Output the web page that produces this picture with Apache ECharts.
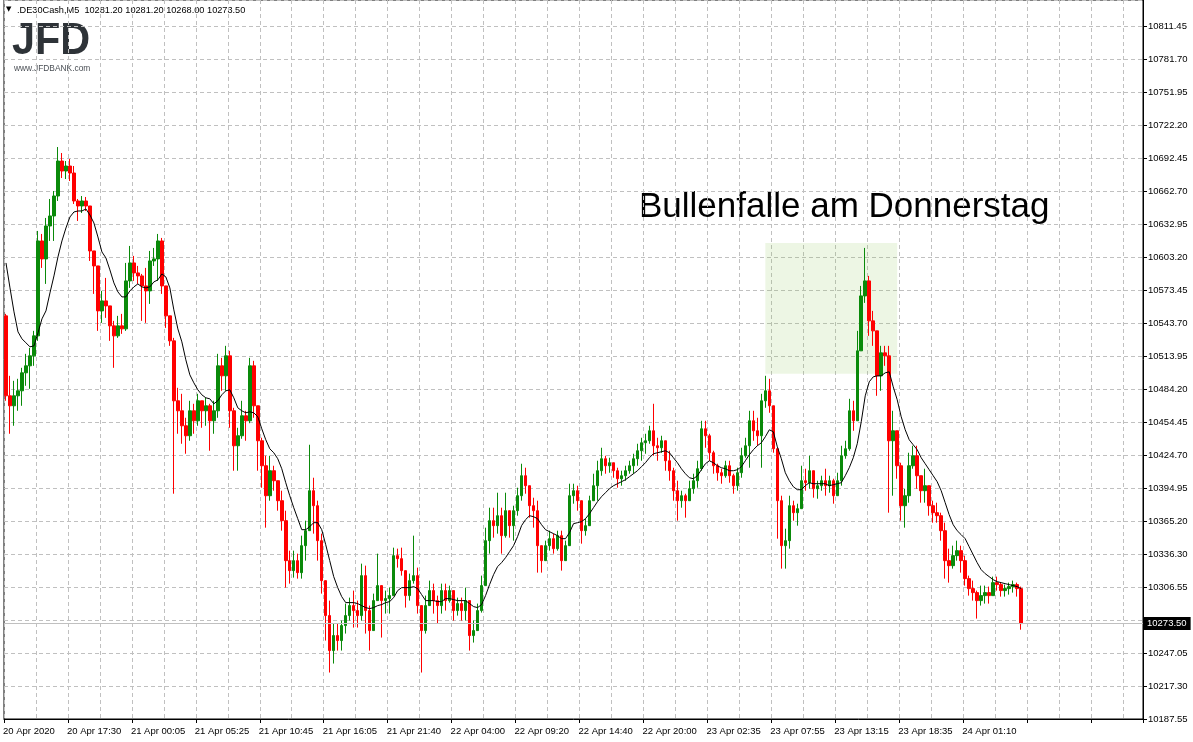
<!DOCTYPE html>
<html><head><meta charset="utf-8">
<script src="https://cdn.jsdelivr.net/npm/echarts@6/dist/echarts.min.js"></script>
<style>html,body{margin:0;padding:0;background:#fff}#c{width:1193px;height:742px}</style>
</head><body><div id="c"></div>
<script>
// ---------- data ----------
const X_LABELS = ["20 Apr 2020","20 Apr 17:30","21 Apr 00:05","21 Apr 05:25","21 Apr 10:45","21 Apr 16:05","21 Apr 21:40","22 Apr 04:00","22 Apr 09:20","22 Apr 14:40","22 Apr 20:00","23 Apr 02:35","23 Apr 07:55","23 Apr 13:15","23 Apr 18:35","24 Apr 01:10"];
// price-axis tick labels, bottom to top
const Y_LABELS = ["10187.55","10217.30","10247.05","10276.80","10306.55","10336.30","10365.20","10394.95","10424.70","10454.45","10484.20","10513.95","10543.70","10573.45","10603.20","10632.95","10662.70","10692.45","10722.20","10751.95","10781.70","10811.45"];
// candles: [open, close, low, high]
const OHLC = [
[10550.7,10478.7,10474.2,10552.5],[10478.7,10469.7,10444.5,10496.7],[10469.7,10478.7,10451.7,10492.2],[10478.7,10483.2,10465.2,10494.0],
[10483.2,10499.4,10469.7,10503.9],[10499.4,10505.7,10487.7,10516.5],[10505.7,10514.7,10485.0,10521.9],[10514.7,10532.7,10505.7,10537.2],
[10532.7,10618.2,10528.2,10627.2],[10618.2,10602.0,10593.9,10624.5],[10602.0,10631.7,10579.5,10638.9],[10631.7,10640.7,10618.2,10656.0],
[10640.7,10658.7,10618.2,10663.2],[10658.7,10690.2,10654.2,10702.8],[10690.2,10681.2,10674.9,10697.4],[10681.2,10685.7,10674.0,10690.2],
[10685.7,10679.4,10672.2,10692.0],[10679.4,10654.2,10651.5,10685.7],[10654.2,10649.7,10636.2,10656.0],[10649.7,10654.2,10643.4,10658.7],
[10654.2,10649.7,10645.2,10657.8],[10649.7,10609.2,10600.2,10649.7],[10609.2,10595.7,10570.5,10609.2],[10595.7,10555.2,10537.2,10595.7],
[10555.2,10564.2,10544.4,10573.2],[10564.2,10559.7,10548.9,10584.9],[10559.7,10541.7,10528.2,10559.7],[10541.7,10532.7,10503.9,10546.2],
[10532.7,10541.7,10530.9,10550.7],[10541.7,10539.0,10534.5,10552.5],[10539.0,10582.2,10537.2,10598.4],[10582.2,10598.4,10575.9,10613.7],
[10598.4,10589.4,10582.2,10604.7],[10589.4,10586.7,10579.5,10595.7],[10586.7,10577.7,10546.2,10588.5],[10577.7,10573.2,10544.4,10593.9],
[10573.2,10600.2,10561.5,10609.2],[10600.2,10602.0,10595.7,10611.9],[10602.0,10618.2,10582.2,10624.5],[10618.2,10577.7,10570.5,10620.9],
[10577.7,10550.7,10539.9,10577.7],[10550.7,10528.2,10523.7,10550.7],[10528.2,10474.2,10390.5,10530.9],[10474.2,10465.2,10444.5,10485.9],
[10465.2,10451.7,10435.5,10480.5],[10451.7,10442.7,10426.5,10458.9],[10442.7,10465.2,10438.2,10474.2],[10465.2,10456.2,10444.5,10471.5],
[10456.2,10474.2,10451.7,10480.5],[10474.2,10465.2,10449.9,10474.2],[10465.2,10469.7,10451.7,10476.9],[10469.7,10456.2,10429.2,10471.5],
[10456.2,10465.2,10444.5,10474.2],[10465.2,10505.7,10458.9,10516.5],[10505.7,10496.7,10483.2,10512.9],[10496.7,10514.7,10483.2,10523.7],
[10514.7,10465.2,10449.9,10519.2],[10465.2,10433.7,10411.2,10467.9],[10433.7,10442.7,10411.2,10449.9],[10442.7,10460.7,10440.0,10474.2],
[10460.7,10456.2,10438.2,10465.2],[10456.2,10505.7,10454.0,10512.9],[10505.7,10469.7,10458.9,10510.2],[10469.7,10438.2,10411.2,10469.7],
[10438.2,10415.7,10395.9,10440.9],[10415.7,10388.7,10359.9,10424.7],[10388.7,10411.2,10384.2,10424.7],[10411.2,10402.2,10393.2,10415.7],
[10402.2,10384.2,10375.2,10402.2],[10384.2,10366.2,10357.2,10393.2],[10366.2,10330.2,10305.9,10375.2],[10330.2,10321.2,10309.5,10339.2],
[10321.2,10330.2,10314.9,10339.2],[10330.2,10319.4,10314.0,10336.5],[10319.4,10343.7,10314.0,10352.7],[10343.7,10357.2,10330.2,10366.2],
[10357.2,10393.2,10357.2,10434.6],[10393.2,10379.7,10354.5,10404.9],[10379.7,10348.2,10330.2,10384.2],[10348.2,10312.2,10300.5,10354.5],
[10312.2,10280.7,10258.2,10312.2],[10280.7,10249.2,10229.4,10294.2],[10249.2,10262.7,10237.5,10273.5],[10262.7,10258.2,10249.2,10273.5],
[10258.2,10271.7,10249.2,10276.2],[10271.7,10280.7,10264.5,10291.5],[10280.7,10289.7,10276.2,10296.9],[10289.7,10285.2,10269.9,10303.2],
[10285.2,10280.7,10269.9,10294.2],[10280.7,10316.7,10276.2,10327.5],[10316.7,10285.2,10264.5,10325.7],[10285.2,10267.2,10249.2,10289.7],
[10267.2,10294.2,10267.2,10300.5],[10294.2,10307.7,10294.2,10336.5],[10307.7,10294.2,10260.9,10307.7],[10294.2,10296.0,10282.5,10303.2],
[10296.0,10298.7,10282.5,10305.9],[10298.7,10334.7,10298.7,10341.9],[10334.7,10332.0,10323.9,10341.0],[10332.0,10321.2,10316.7,10341.9],
[10321.2,10298.7,10287.9,10321.2],[10298.7,10312.2,10294.2,10318.5],[10312.2,10316.7,10309.5,10352.7],[10316.7,10289.7,10282.5,10323.9],
[10289.7,10267.2,10229.4,10289.7],[10267.2,10289.7,10264.5,10298.7],[10289.7,10303.2,10289.7,10312.2],[10303.2,10294.2,10282.5,10309.5],
[10294.2,10289.7,10273.5,10298.7],[10289.7,10303.2,10282.5,10309.5],[10303.2,10294.2,10285.2,10309.5],[10294.2,10303.2,10292.4,10307.7],
[10303.2,10285.2,10276.2,10303.2],[10285.2,10291.5,10280.7,10296.9],[10291.5,10285.2,10276.2,10296.9],[10285.2,10294.2,10276.2,10305.9],
[10294.2,10262.7,10249.2,10294.2],[10262.7,10267.2,10256.4,10276.2],[10267.2,10285.2,10267.2,10291.5],[10285.2,10307.7,10283.4,10316.7],
[10307.7,10348.2,10307.7,10359.9],[10348.2,10366.2,10336.5,10377.9],[10366.2,10361.7,10350.9,10377.9],[10361.7,10370.7,10354.5,10391.4],
[10370.7,10352.7,10336.5,10377.9],[10352.7,10375.2,10350.9,10391.4],[10375.2,10361.7,10350.9,10375.2],[10361.7,10375.2,10348.2,10379.7],
[10375.2,10388.7,10370.7,10395.9],[10388.7,10406.7,10384.2,10417.5],[10406.7,10397.7,10390.5,10413.9],[10397.7,10379.7,10368.9,10397.7],
[10379.7,10375.2,10359.9,10386.9],[10375.2,10343.7,10319.4,10384.2],[10343.7,10330.2,10319.4,10343.7],[10330.2,10343.7,10330.2,10348.2],
[10343.7,10350.0,10339.2,10357.2],[10350.0,10341.0,10336.5,10354.5],[10341.0,10352.7,10339.2,10357.2],[10352.7,10330.2,10321.2,10357.2],
[10330.2,10343.7,10330.2,10348.2],[10343.7,10388.7,10343.7,10399.5],[10388.7,10393.2,10381.5,10399.5],[10393.2,10384.2,10375.2,10397.7],
[10384.2,10357.2,10345.5,10384.2],[10357.2,10361.7,10352.7,10368.0],[10361.7,10384.2,10361.7,10388.7],[10384.2,10397.7,10384.2,10408.5],
[10397.7,10411.2,10384.2,10420.2],[10411.2,10422.0,10406.7,10431.9],[10422.0,10415.7,10408.5,10424.7],[10415.7,10418.4,10409.4,10422.9],
[10418.4,10411.2,10404.9,10418.4],[10411.2,10404.0,10395.9,10413.9],[10404.0,10406.7,10397.7,10411.2],[10406.7,10411.2,10402.2,10415.7],
[10411.2,10415.7,10408.5,10420.2],[10415.7,10422.0,10408.5,10426.5],[10422.0,10429.2,10415.7,10435.5],[10429.2,10436.4,10420.2,10440.9],
[10436.4,10438.2,10426.5,10444.5],[10438.2,10447.2,10435.5,10451.7],[10447.2,10433.7,10424.7,10471.5],[10433.7,10431.9,10420.2,10440.9],
[10431.9,10438.2,10427.4,10442.7],[10438.2,10420.2,10411.2,10438.2],[10420.2,10411.2,10402.2,10429.2],[10411.2,10393.2,10384.2,10413.9],
[10393.2,10384.2,10366.2,10402.2],[10384.2,10388.7,10377.9,10393.2],[10388.7,10384.2,10368.9,10390.5],[10384.2,10395.0,10384.2,10402.2],
[10395.0,10402.2,10390.5,10408.5],[10402.2,10413.0,10395.9,10420.2],[10413.0,10449.0,10411.2,10456.2],[10449.0,10442.7,10431.9,10456.2],
[10442.7,10427.4,10420.2,10444.5],[10427.4,10415.7,10408.5,10429.2],[10415.7,10409.4,10402.2,10417.5],[10409.4,10406.7,10399.5,10413.0],
[10406.7,10415.7,10404.9,10420.2],[10415.7,10406.7,10400.4,10420.2],[10406.7,10397.7,10390.5,10408.5],[10397.7,10409.4,10393.2,10413.9],
[10409.4,10424.7,10404.9,10431.9],[10424.7,10433.7,10422.9,10440.9],[10433.7,10456.2,10413.9,10465.2],[10456.2,10447.2,10438.2,10465.2],
[10447.2,10442.7,10433.7,10458.9],[10442.7,10474.2,10413.9,10480.5],[10474.2,10483.2,10467.9,10496.7],[10483.2,10469.7,10463.4,10494.0],
[10469.7,10431.0,10427.4,10469.7],[10431.0,10384.2,10350.0,10431.0],[10384.2,10343.7,10323.0,10388.7],[10343.7,10348.2,10323.0,10359.0],
[10348.2,10379.7,10341.0,10388.7],[10379.7,10373.4,10366.2,10384.2],[10373.4,10377.0,10361.7,10381.5],[10377.0,10402.2,10377.0,10415.7],
[10402.2,10400.4,10393.2,10413.0],[10400.4,10411.2,10395.0,10424.7],[10411.2,10395.0,10386.9,10411.2],[10395.0,10397.7,10386.0,10402.2],
[10397.7,10402.2,10393.2,10406.7],[10402.2,10397.7,10388.7,10413.0],[10397.7,10402.2,10391.4,10406.7],[10402.2,10388.7,10381.5,10404.0],
[10388.7,10402.2,10388.7,10409.4],[10402.2,10424.7,10397.7,10433.7],[10424.7,10431.0,10422.0,10438.2],[10431.0,10465.2,10429.2,10476.0],
[10465.2,10456.2,10447.2,10474.2],[10456.2,10519.2,10456.2,10537.2],[10519.2,10568.7,10519.2,10577.7],[10568.7,10582.2,10562.4,10611.9],
[10582.2,10546.2,10532.7,10586.7],[10546.2,10537.2,10523.7,10555.2],[10537.2,10496.7,10478.7,10537.2],[10496.7,10517.4,10483.2,10523.7],
[10517.4,10514.7,10505.7,10523.7],[10514.7,10438.2,10373.4,10523.7],[10438.2,10447.2,10388.7,10465.2],[10447.2,10415.7,10404.0,10447.2],
[10415.7,10379.7,10366.2,10418.4],[10379.7,10388.7,10359.9,10395.0],[10388.7,10415.7,10382.4,10427.4],[10415.7,10424.7,10413.0,10433.7],
[10424.7,10406.7,10395.0,10433.7],[10406.7,10393.2,10382.4,10406.7],[10393.2,10397.7,10382.4,10413.0],[10397.7,10379.7,10370.7,10397.7],
[10379.7,10373.4,10364.4,10384.2],[10373.4,10370.7,10364.4,10382.4],[10370.7,10357.2,10348.2,10373.4],[10357.2,10330.2,10314.0,10364.4],
[10330.2,10325.7,10310.4,10341.0],[10325.7,10334.7,10323.0,10343.7],[10334.7,10339.2,10330.2,10348.2],[10339.2,10330.2,10319.4,10343.7],
[10330.2,10314.0,10307.7,10334.7],[10314.0,10305.0,10298.7,10316.7],[10305.0,10301.4,10294.2,10312.2],[10301.4,10294.2,10278.0,10303.2],
[10294.2,10298.7,10289.7,10307.7],[10298.7,10301.4,10291.5,10307.7],[10301.4,10298.7,10291.5,10306.8],[10298.7,10310.4,10298.7,10315.8],
[10310.4,10308.6,10303.2,10315.8],[10308.6,10303.2,10297.8,10310.4],[10303.2,10305.0,10297.8,10308.6],[10305.0,10306.8,10299.6,10310.4],
[10306.8,10308.6,10301.4,10312.2],[10308.6,10305.0,10297.8,10310.4],[10305.0,10273.5,10268.0,10306.8]
];
// moving average (black line), one value per candle
const MA = [
10598.4,10575.9,10554.3,10536.3,10530.0,10526.4,10522.8,10523.7,10535.4,10548.0,10555.2,10571.4,10586.7,10603.8,10618.2,10629.9,
10639.8,10644.3,10645.2,10645.2,10647.0,10641.6,10634.4,10621.8,10608.3,10602.9,10592.1,10580.4,10572.3,10567.8,10567.8,10573.2,
10576.8,10579.5,10576.8,10575.9,10576.8,10581.3,10583.1,10588.5,10585.8,10575.9,10556.1,10539.0,10527.3,10511.1,10497.6,10490.4,
10484.1,10479.6,10476.9,10476.0,10471.5,10474.2,10479.6,10483.2,10484.1,10476.9,10467.9,10465.2,10463.4,10464.3,10463.4,10459.8,
10449.0,10439.1,10431.0,10427.4,10422.0,10413.0,10400.4,10388.7,10377.9,10368.0,10358.1,10358.1,10360.8,10364.4,10364.4,10358.1,
10344.6,10330.2,10315.8,10305.9,10297.8,10292.4,10292.4,10292.4,10291.5,10289.7,10287.9,10287.0,10287.9,10289.7,10290.6,10292.4,
10293.3,10296.9,10303.2,10305.9,10305.9,10305.9,10306.8,10305.0,10299.6,10294.2,10294.2,10294.2,10293.3,10293.3,10296.0,10296.0,
10295.1,10294.2,10294.2,10294.2,10291.5,10288.8,10287.9,10290.6,10298.7,10308.6,10317.6,10324.8,10328.4,10332.9,10338.3,10343.7,
10351.8,10361.7,10367.1,10370.7,10369.8,10368.0,10362.6,10358.1,10356.3,10354.5,10352.7,10350.0,10350.0,10355.4,10363.5,10364.4,
10365.3,10368.0,10372.5,10377.9,10383.3,10387.8,10391.4,10395.0,10397.7,10399.5,10401.3,10403.1,10405.8,10408.5,10411.2,10414.8,
10418.4,10422.9,10426.5,10427.4,10428.3,10429.2,10427.4,10422.9,10418.4,10413.0,10408.5,10404.9,10404.0,10406.7,10412.1,10417.5,
10420.2,10418.4,10415.7,10413.9,10413.0,10411.2,10411.2,10412.1,10414.8,10420.2,10425.6,10430.1,10433.7,10436.4,10441.8,10448.1,
10446.3,10432.8,10422.0,10409.4,10402.2,10396.8,10394.1,10394.1,10397.7,10400.4,10399.5,10399.5,10399.5,10399.5,10397.7,10398.6,
10399.5,10400.4,10406.7,10413.9,10422.9,10435.5,10455.3,10478.7,10491.3,10495.8,10496.7,10496.7,10499.4,10500.3,10486.8,10475.1,
10459.8,10448.1,10439.1,10434.6,10430.1,10422.9,10417.5,10412.1,10406.7,10401.3,10393.2,10382.4,10371.6,10362.6,10357.2,10353.6,
10350.0,10342.8,10335.6,10328.4,10322.1,10318.5,10315.8,10313.1,10311.3,10310.4,10309.5,10308.6,10307.7,10306.8,10305.0
];
const LAST_PRICE = 10273.50;
const HEADER_TEXT = ".DE30Cash,M5  10281.20 10281.20 10268.00 10273.50";
const ANNOTATION = "Bullenfalle am Donnerstag";
const ZONE = { fromIdx: 190, toIdx: 223, top: 10616.4, bottom: 10498.5 };

// ---------- chart ----------
const BASE = 10187.55;                       // price at the lowest grid line
const STEP = (10811.45 - 10187.55) / 21;     // grid spacing in price
const N_CATS = 285;                           // bar slots across the plot
const cats = Array.from({length: N_CATS}, (_, i) => 'c' + i);
const FONT = "'Liberation Sans', Arial, sans-serif";

const chart = echarts.init(document.getElementById('c'), null, {renderer: 'canvas'});
chart.setOption({
  animation: false,
  backgroundColor: '#ffffff',
  textStyle: { fontFamily: FONT },
  grid: { left: 3, right: 50, top: 0, bottom: 23, show: true, borderColor: '#000', borderWidth: 1, backgroundColor: 'transparent' },
  xAxis: {
    type: 'category', data: cats, boundaryGap: true,
    axisLine: { show: true, lineStyle: { color: '#000', width: 1 } },
    axisTick: { show: true, interval: 15, length: 4, lineStyle: { color: '#000' } },
    axisLabel: {
      interval: 15, margin: 7, align: 'left', padding: [0, 0, 0, -3],
      color: '#000', fontSize: 9.5, fontFamily: FONT,
      formatter: (v, idx) => (idx % 16 === 0 && X_LABELS[idx / 16]) ? X_LABELS[idx / 16] : ''
    },
    splitLine: { show: true, interval: 7, lineStyle: { color: '#c0c0c0', type: [4, 3], width: 1 } }
  },
  yAxis: {
    type: 'value', position: 'right', min: 0, max: 647.7, interval: STEP, scale: false,
    axisLine: { show: true, onZero: false, lineStyle: { color: '#000', width: 1 } },
    axisTick: { show: true, length: 4, lineStyle: { color: '#000' } },
    axisLabel: {
      margin: 5, color: '#000', fontSize: 9.5, fontFamily: FONT, showMaxLabel: false,
      formatter: v => {
        const k = Math.round(v / STEP);
        if (Math.abs(k * STEP - v) > 0.01) return '';
        const lab = Y_LABELS[k];
        if (!lab) return '';
        if (Math.abs(parseFloat(lab) - LAST_PRICE) < 8) return '';
        return lab;
      }
    },
    splitLine: { show: true, lineStyle: { color: '#c0c0c0', type: [4, 3], width: 1 } }
  },
  series: [
    {
      type: 'line', data: [], z: 1, silent: true,
      markArea: {
        silent: true,
        itemStyle: { color: 'rgba(140,200,90,0.16)' },
        data: [[ { xAxis: ZONE.fromIdx, yAxis: ZONE.top - BASE }, { xAxis: ZONE.toIdx, yAxis: ZONE.bottom - BASE } ]]
      }
    },
    {
      type: 'candlestick', z: 2,
      barWidth: 3,
      data: OHLC.map(r => r.map(v => +(v - BASE).toFixed(2))),
      itemStyle: { color: '#0a8a0a', color0: '#ff0000', borderColor: '#0a8a0a', borderColor0: '#ff0000', borderWidth: 1 },
      markLine: {
        silent: true, symbol: ['none', 'none'],
        lineStyle: { color: '#c0c0c0', type: 'solid', width: 1 },
        label: {
          show: true, position: 'end', distance: 1, formatter: LAST_PRICE.toFixed(2),
          backgroundColor: '#000', color: '#fff', fontSize: 9.5, fontFamily: FONT, padding: [2, 4, 1, 3]
        },
        data: [{ yAxis: LAST_PRICE - BASE }]
      }
    },
    {
      type: 'line', z: 3, data: MA.map(v => +(v - BASE).toFixed(2)),
      showSymbol: false, smooth: false, silent: true,
      lineStyle: { color: '#000', width: 1 }
    }
  ],
  graphic: [
    { type: 'text', left: 6, top: 6, style: { text: '▼', fontSize: 7, fill: '#000', fontFamily: "'DejaVu Sans', sans-serif" } },
    { type: 'text', x: 17, y: 10, style: { text: HEADER_TEXT, fontSize: 9.2, fill: '#000', fontFamily: FONT, verticalAlign: 'middle' } },
    { type: 'text', x: 12, y: 41.5, scaleX: 0.92, style: { text: 'JFD', fontSize: 45, fontWeight: 'bold', fill: '#2e3338', fontFamily: FONT, verticalAlign: 'middle' } },
    { type: 'text', x: 14, y: 68.4, style: { text: 'www.JFDBANK.com', fontSize: 8.4, fill: '#4a4f55', fontFamily: FONT, verticalAlign: 'middle' } },
    { type: 'text', x: 639, y: 207, style: { text: ANNOTATION, fontSize: 35, fill: '#000', fontFamily: FONT, verticalAlign: 'middle' } }
  ]
});
</script>
</body></html>
